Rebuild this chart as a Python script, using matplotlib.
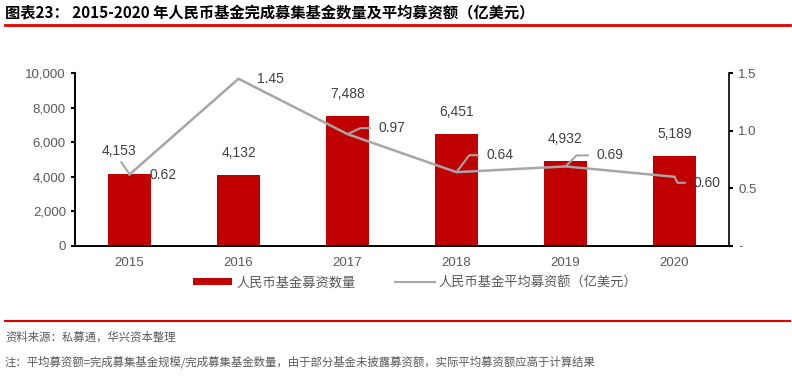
import matplotlib
matplotlib.use('Agg')
import matplotlib.pyplot as plt
from matplotlib.lines import Line2D
from matplotlib.patches import Patch

years = ['2015', '2016', '2017', '2018', '2019', '2020']
fund_counts = [4153, 4132, 7488, 6451, 4932, 5189]
avg_raise = [0.62, 1.45, 0.97, 0.64, 0.69, 0.60]
left_ticks = [0, 2000, 4000, 6000, 8000, 10000]
right_ticks = [0, 0.5, 1.0, 1.5]
right_tick_labels = ['-', '0.5', '1.0', '1.5']

title = '图表23： 2015-2020 年人民币基金完成募集基金数量及平均募资额（亿美元）'
source = '资料来源：私募通，华兴资本整理'
note = '注：平均募资额=完成募集基金规模/完成募集基金数量，由于部分基金未披露募资额，实际平均募资额应高于计算结果'
bar_name = '人民币基金募资数量'
line_name = '人民币基金平均募资额（亿美元）'

plt.rcParams['font.family'] = ['Liberation Sans', 'Noto Sans CJK SC', 'DejaVu Sans']
cjk = ['Noto Sans CJK SC', 'DejaVu Sans']
RED = '#C00000'
GREY = '#A6A6A6'
TXT = '#595959'
LBL = '#404040'

fig = plt.figure(figsize=(7.92, 3.76), dpi=100)
ax = fig.add_axes([75/792, 1-246/376, 654/792, 173/376])
ax2 = ax.twinx()

x = list(range(len(years)))
ax.bar(x, fund_counts, width=0.4, color=RED, zorder=2)
for xi, v in zip(x, fund_counts):
    if xi == 0:
        # this one sits left of the line point, with a short leader
        ax.annotate('{:,}'.format(v), (xi, v), xytext=(-11, 16), textcoords='offset pixels',
                    ha='center', va='bottom', fontsize=10, color=LBL,
                    arrowprops=dict(arrowstyle='-', color=GREY, lw=1.5, shrinkA=1, shrinkB=1,
                                    relpos=(0.5, 0)))
    else:
        ax.annotate('{:,}'.format(v), (xi, v), xytext=(0, 15), textcoords='offset pixels',
                    ha='center', va='bottom', fontsize=10, color=LBL)

ax.set_xlim(-0.5, 5.5)
ax.set_ylim(0, 10000)
ax.set_yticks(left_ticks)
ax.set_yticklabels(['{:,}'.format(t) for t in left_ticks])
ax.set_xticks(x)
ax.set_xticklabels(years)

ax2.plot(x, avg_raise, color=GREY, linewidth=1.8, zorder=3)
ax2.set_ylim(0, 1.5)
ax2.set_yticks(right_ticks)
ax2.set_yticklabels(right_tick_labels)

# line labels: dx, dy in pixels, leader angle at the point (None = no leader)
offsets = [(20, -1, None), (19, 0, None), (31, 6, 25), (30, 17, 53), (31, 11, 45), (19, -6, -63)]
for xi, v, (dx, dy, ang) in zip(x, avg_raise, offsets):
    if ang is None:
        ax2.annotate('%.2f' % v, (xi, v), xytext=(dx, dy), textcoords='offset pixels',
                     ha='left', va='center', fontsize=10, color=LBL)
    else:
        ax2.annotate('%.2f' % v, (xi, v), xytext=(dx, dy), textcoords='offset pixels',
                     ha='left', va='center', fontsize=10, color=LBL,
                     arrowprops=dict(arrowstyle='-', color=GREY, lw=1.5, shrinkA=4, shrinkB=1,
                                     relpos=(0, 0.5),
                                     connectionstyle='angle,angleA=0,angleB=%d,rad=0' % ang))

for a in (ax, ax2):
    a.spines['top'].set_visible(False)
    for s in a.spines.values():
        s.set_color('black')
        s.set_linewidth(1.2)
    a.tick_params(axis='y', labelsize=9.5, labelcolor=TXT, length=3, width=1.5, color='black')
ax.tick_params(axis='x', labelsize=9.5, labelcolor=TXT, length=0, pad=8)
ax.spines['right'].set_visible(False)

handles = [Patch(facecolor=RED, edgecolor='none'), Line2D([], [], color=GREY, lw=1.5)]
leg = fig.legend(handles, [bar_name, line_name], loc='center', bbox_to_anchor=(415/792, 1-283/376),
                 ncol=2, frameon=False, handlelength=3.0, handleheight=0.45, handletextpad=0.3,
                 columnspacing=3.0, prop={'family': cjk, 'size': 9.5})
for t in leg.get_texts():
    t.set_color(TXT)

fig.text(5/792, 1-13/376, title, ha='left', va='center', fontsize=11, fontweight='bold',
         family=cjk, color='black')
fig.add_artist(Line2D([5/792, 790/792], [1-25/376, 1-25/376], color='#E00000', lw=2))
fig.add_artist(Line2D([5/792, 790/792], [1-321/376, 1-321/376], color='#E00000', lw=1.5))
fig.text(5/792, 1-337/376, source, ha='left', va='center', fontsize=8.2, family=cjk, color=TXT)
fig.text(5/792, 1-362/376, note, ha='left', va='center', fontsize=8.2, family=cjk, color=TXT)

fig.savefig('out.png', dpi=100)
